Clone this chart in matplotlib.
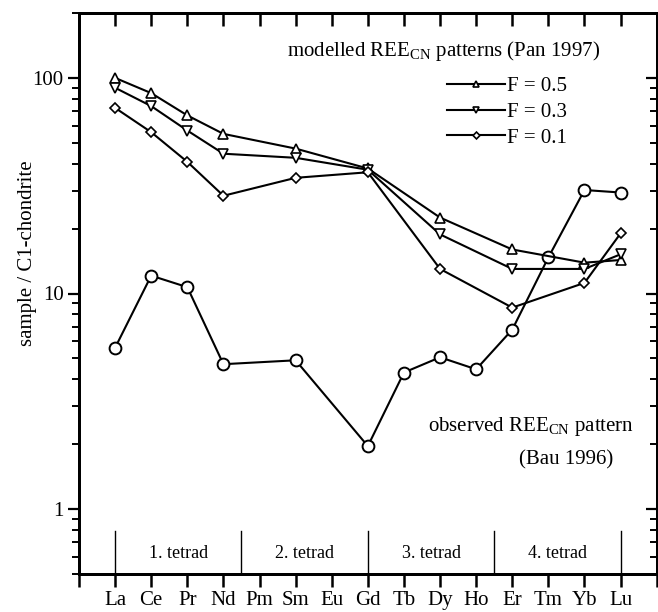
import numpy as np
import matplotlib
matplotlib.use('Agg')
import matplotlib.pyplot as plt
from matplotlib.ticker import FixedLocator, NullFormatter

plt.rcParams['font.family'] = ['Liberation Serif', 'DejaVu Serif']
plt.rcParams['mathtext.fontset'] = 'custom'
plt.rcParams['mathtext.rm'] = 'Liberation Serif'

elements = ['La', 'Ce', 'Pr', 'Nd', 'Pm', 'Sm', 'Eu', 'Gd', 'Tb', 'Dy', 'Ho', 'Er', 'Tm', 'Yb', 'Lu']

# modelled patterns (Pan 1997): La Ce Pr Nd Sm Gd Dy Er Yb Lu
model_el = ['La', 'Ce', 'Pr', 'Nd', 'Sm', 'Gd', 'Dy', 'Er', 'Yb', 'Lu']
f05 = [100, 85, 67, 55, 47, 38, 22.5, 16, 13.9, 14.3]
f03 = [90, 74, 57, 44.5, 42.6, 37.5, 18.8, 13, 13, 15.2]
f01 = [72.6, 56, 40.8, 28.4, 34.4, 36.5, 13, 8.6, 11.2, 19]

# observed pattern (Bau 1996)
obs_el = ['La', 'Ce', 'Pr', 'Nd', 'Sm', 'Gd', 'Tb', 'Dy', 'Ho', 'Er', 'Tm', 'Yb', 'Lu']
obs = [5.6, 12.1, 10.7, 4.7, 4.9, 1.96, 4.3, 5.06, 4.45, 6.8, 14.7, 30.2, 29.4]

tetrad_bounds = [1, 4.5, 8, 11.5, 15]
tetrad_labels = ['1. tetrad', '2. tetrad', '3. tetrad', '4. tetrad']

pos = {e: i + 1 for i, e in enumerate(elements)}
xm = [pos[e] for e in model_el]
xo = [pos[e] for e in obs_el]

fig = plt.figure(figsize=(6.58, 6.12), dpi=100)
ax = fig.add_axes([79 / 658, 1 - 574 / 612, 1 - 79 / 658 - 0.002, (574 - 13) / 612])

lw = 1.5
ax.plot(xo, obs, '-o', color='black', lw=lw, ms=8.5, mfc='white', mec='black', mew=1.4, zorder=3)
ax.plot(xm, f05, '-^', color='black', lw=lw, ms=6.5, mfc='white', mec='black', mew=1.2, label='F = 0.5', zorder=4)
ax.plot(xm, f03, '-v', color='black', lw=lw, ms=6.5, mfc='white', mec='black', mew=1.2, label='F = 0.3', zorder=4)
ax.plot(xm, f01, '-D', color='black', lw=lw, ms=5, mfc='white', mec='black', mew=1.2, label='F = 0.1', zorder=4)

# tetrad divisions
for b in tetrad_bounds:
    ax.plot([b, b], [0.5, 0.79], color='black', lw=1.0)
for i, lab in enumerate(tetrad_labels):
    xc = (tetrad_bounds[i] + tetrad_bounds[i + 1]) / 2
    ax.text(xc, 0.625, lab, ha='center', va='center', fontsize=13)

ax.set_yscale('log')
ax.set_ylim(0.5, 200)
ax.set_xlim(0, 16)

xt = list(range(0, 17))
minors = [v * d for d in [0.1, 1, 10, 100] for v in range(2, 10) if 0.5 <= v * d <= 200]

ax.xaxis.set_major_locator(FixedLocator(xt))
ax.set_xticklabels([''] + elements + [''], fontsize=15)
ax.tick_params(axis='x', which='major', direction='out', length=9, width=1.8, pad=3)

ax.yaxis.set_major_locator(FixedLocator([1, 10, 100]))
ax.set_yticklabels(['1', '10', '100'], fontsize=15)
ax.yaxis.set_minor_locator(FixedLocator(minors))
ax.yaxis.set_minor_formatter(NullFormatter())
ax.tick_params(axis='y', which='major', direction='out', length=8, width=1.6, pad=3)
ax.tick_params(axis='y', which='minor', direction='out', length=5, width=1.4)

# inward ticks on top and right
axt = ax.twiny()
axt.set_xlim(ax.get_xlim())
axt.set_xticks(xt)
axt.set_xticklabels([''] * len(xt))
axt.tick_params(axis='x', which='major', top=True, direction='in', length=9, width=1.8, color='black')

axr = ax.twinx()
axr.set_yscale('log')
axr.set_ylim(ax.get_ylim())
axr.set_yticks([1, 10, 100])
axr.set_yticks(minors, minor=True)
axr.set_yticklabels(['', '', ''])
axr.yaxis.set_minor_formatter(NullFormatter())
axr.tick_params(axis='y', which='major', right=True, direction='in', length=8, width=1.6, color='black')
axr.tick_params(axis='y', which='minor', right=True, direction='in', length=5, width=1.4, color='black')

for a in (ax, axt, axr):
    for s in a.spines.values():
        s.set_linewidth(2.0)

ax.set_ylabel('sample / C1-chondrite', fontsize=15)
ax.yaxis.set_label_coords(-0.072, 0.572)

ax.text(10.1, 133, 'modelled REE$_{\\mathrm{CN}}$ patterns (Pan 1997)', ha='center', va='center', fontsize=15)
ax.text(12.51, 2.42, 'observed REE$_{\\mathrm{CN}}$ pattern', ha='center', va='center', fontsize=15)
ax.text(13.5, 1.69, '(Bau 1996)', ha='center', va='center', fontsize=15)

ax.legend(loc='upper left', bbox_to_anchor=(0.637, 0.887), frameon=False, fontsize=15,
          handlelength=2.8, handletextpad=0.1, labelspacing=0.3, borderpad=0, borderaxespad=0,
          markerscale=0.7)

fig.savefig('out.png', dpi=100)
